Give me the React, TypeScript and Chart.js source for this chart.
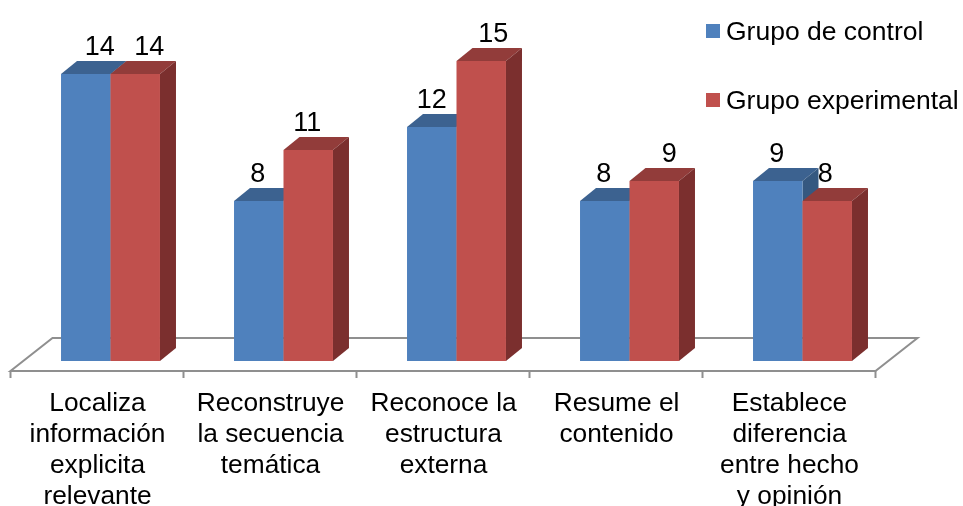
import React, { useEffect, useRef } from "react";
import { Chart, registerables } from "chart.js";

Chart.register(...registerables);

const categories = [
  ["Localiza", "información", "explicita", "relevante"],
  ["Reconstruye", "la secuencia", "temática"],
  ["Reconoce la", "estructura", "externa"],
  ["Resume el", "contenido"],
  ["Establece", "diferencia", "entre hecho", "y opinión"],
];
const controlName = "Grupo de control";
const experimentalName = "Grupo experimental";
// Bar heights; the printed labels are rounded in the source.
const controlHeights = [14.35, 8, 11.7, 8, 9];
const experimentalHeights = [14.35, 10.55, 15, 9, 8];
const controlLabels = ["14", "8", "12", "8", "9"];
const experimentalLabels = ["14", "11", "15", "9", "8"];

// Style constants
const FONT = '"Liberation Sans", Arial, sans-serif';
const DEPTH_X = 16;
const DEPTH_Y = 13;
const FLOOR_FRONT = 10;
const FLOOR_BACK = 23;
const FLOOR_SHIFT = 13.5;
const GRID = "#8f8f8f";
const controlNudge = [14, -1, 0, -1, -1];
const experimentalNudge = [14, -1, 12, 15, -2];
const faces = [
  { front: "#4f81bd", top: "#3c6290", side: "#355880", nudge: controlNudge, text: controlLabels },
  { front: "#c0504d", top: "#923c3a", side: "#7b2f2e", nudge: experimentalNudge, text: experimentalLabels },
];

function poly(ctx: CanvasRenderingContext2D, pts: number[][], fill: string) {
  ctx.beginPath();
  pts.forEach(([x, y], i) => (i ? ctx.lineTo(x, y) : ctx.moveTo(x, y)));
  ctx.closePath();
  ctx.fillStyle = fill;
  ctx.fill();
}

const scene3d = {
  id: "scene3d",
  beforeDatasetsDraw(chart: any) {
    const { ctx, scales } = chart;
    const x = scales.x;
    const y0 = scales.y.getPixelForValue(0);
    const l = x.left - FLOOR_SHIFT;
    const r = x.right - FLOOR_SHIFT;
    const front = y0 + FLOOR_FRONT;
    const back = y0 - FLOOR_BACK;
    const run = 42;
    ctx.save();
    ctx.strokeStyle = GRID;
    ctx.lineWidth = 2;
    ctx.beginPath();
    ctx.moveTo(l, front);
    ctx.lineTo(r, front);
    ctx.lineTo(r + run, back);
    ctx.lineTo(l + run, back);
    ctx.closePath();
    ctx.stroke();
    const n = chart.data.labels.length;
    ctx.beginPath();
    for (let i = 0; i <= n; i++) {
      const tx = l + ((r - l) * i) / n;
      ctx.moveTo(tx, front);
      ctx.lineTo(tx, front + 7);
    }
    ctx.stroke();
    // Painter's order: control first, experimental over it, each with its 3D faces behind.
    faces.forEach((face, d) => {
      const meta = chart.getDatasetMeta(d);
      meta.data.forEach((bar: any) => {
        const half = bar.width / 2;
        const a = bar.x - half;
        const b = bar.x + half;
        const t = bar.y;
        poly(ctx, [[a, t], [a + DEPTH_X, t - DEPTH_Y], [b + DEPTH_X, t - DEPTH_Y], [b, t]], face.top);
        poly(ctx, [[b, t], [b + DEPTH_X, t - DEPTH_Y], [b + DEPTH_X, y0 - DEPTH_Y], [b, y0]], face.side);
      });
      meta.controller.draw();
    });
    ctx.restore();
  },
  beforeDatasetDraw() {
    return false;
  },
  afterDatasetsDraw(chart: any) {
    const { ctx } = chart;
    ctx.save();
    ctx.font = `27px ${FONT}`;
    ctx.fillStyle = "#000";
    ctx.textAlign = "center";
    ctx.textBaseline = "middle";
    faces.forEach((face, d) => {
      chart.getDatasetMeta(d).data.forEach((bar: any, i: number) => {
        ctx.fillText(face.text[i], bar.x + face.nudge[i], bar.y - 26);
      });
    });
    // Legend
    ctx.font = `26.5px ${FONT}`;
    ctx.textAlign = "left";
    ctx.textBaseline = "alphabetic";
    chart.data.datasets.forEach((ds: any, d: number) => {
      const top = d === 0 ? 24 : 93;
      ctx.fillStyle = ds.backgroundColor;
      ctx.fillRect(706, top, 14, 14);
      ctx.fillStyle = "#000";
      ctx.fillText(ds.label, 726, top + 16);
    });
    ctx.restore();
  },
};

export default function App() {
  const ref = useRef<HTMLCanvasElement>(null);
  useEffect(() => {
    const chart = new Chart(ref.current!, {
      type: "bar",
      data: {
        labels: categories as any,
        datasets: [
          { label: controlName, data: controlHeights, backgroundColor: faces[0].front },
          { label: experimentalName, data: experimentalHeights, backgroundColor: faces[1].front },
        ],
      },
      options: {
        animation: false,
        responsive: false,
        layout: { padding: { left: 24, right: 74, top: 41, bottom: 0 } },
        plugins: { legend: { display: false }, tooltip: { enabled: false }, title: { display: false } },
        datasets: { bar: { categoryPercentage: 0.572, barPercentage: 1 } },
        scales: {
          x: {
            grid: { display: false },
            border: { display: false },
            afterFit: (s: any) => { s.height = 145; },
            ticks: {
              autoSkip: false,
              maxRotation: 0,
              minRotation: 0,
              padding: 19,
              labelOffset: -13,
              color: "#000",
              font: { family: FONT, size: 26.3, lineHeight: 31 / 26.3 },
            },
          },
          y: { display: false, min: 0, max: 16 },
        },
      } as any,
      plugins: [scene3d],
    });
    return () => chart.destroy();
  }, []);
  return (
    <canvas
      ref={ref}
      width={963}
      height={506}
      style={{ position: "absolute", left: 0, top: 0, width: 963, height: 506 }}
    />
  );
}
